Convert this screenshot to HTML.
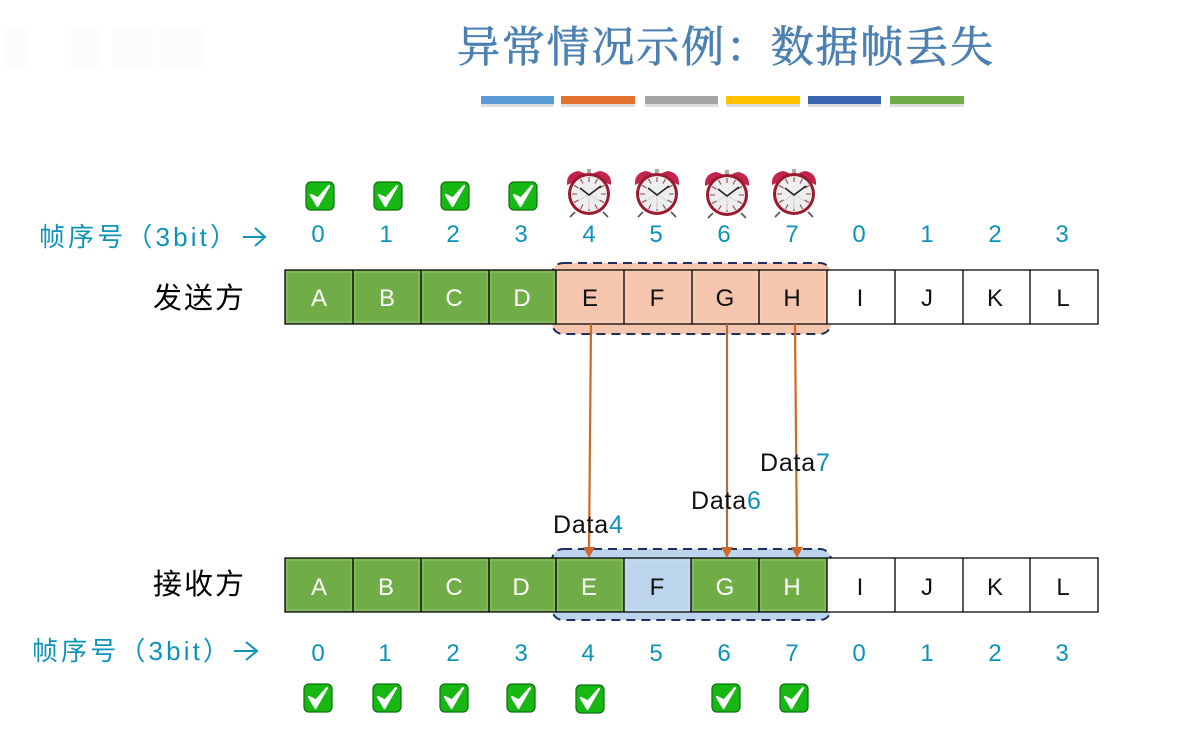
<!DOCTYPE html>
<html><head><meta charset="utf-8">
<style>
html,body{margin:0;padding:0;background:#fff;width:1180px;height:730px;overflow:hidden}
svg{display:block;filter:blur(.35px)}
text{font-family:"Liberation Sans","Noto Sans CJK SC",sans-serif}
.n{font-size:24px;fill:#0b93ba;text-anchor:middle}
.l{font-size:24px;text-anchor:middle}
.w{fill:#fff}.k{fill:#111}
.cj{font-family:"Noto Serif CJK SC","Liberation Serif",serif}
.g{fill:#70ad47}.o{fill:#f6c5ae}.b{fill:#bdd5ec}.e{fill:#fff}
.c{stroke:#000;stroke-width:1.3}
.in{fill:none;stroke:#fff;stroke-opacity:.2;stroke-width:1.2}
.d{font-size:25px;fill:#111;letter-spacing:.8px}
</style></head>
<body>
<svg width="1180" height="730" viewBox="0 0 1180 730" xmlns="http://www.w3.org/2000/svg">
<defs>
<g id="chk">
<rect x="-14" y="-14" width="28" height="28" rx="5" fill="#17b814" stroke="#0c6e0c" stroke-width="1.2"/>
<path d="M-9,-1 L-2.5,10 L9,-10 L-2,2.5 Z" fill="#fff" stroke="#fff" stroke-width="2.2" stroke-linejoin="round"/>
</g>
<g id="clk">
<path d="M-14,18 L-19,23 M14,18 L19,23" stroke="#555" stroke-width="1.6"/>
<path d="M-22,-9 Q-23,-21 -11,-23 Q-5,-22 -2,-18 Z" fill="#c2244c"/>
<path d="M22,-9 Q23,-21 11,-23 Q5,-22 2,-18 Z" fill="#c2244c"/>
<rect x="-2" y="-25" width="4" height="4" fill="#b9a7a7"/>
<circle cx="0" cy="0" r="21" fill="#9a1b30"/>
<circle cx="0" cy="0" r="18" fill="#efeeee"/>
<path d="M0,-17V-12M0,17V9M-17,0H-12M17,0H12M-8.5,-15L-6,-10.5M8.5,-15L6,-10.5M-15,-8.5L-10.5,-6M15,-8.5L10.5,-6M-15,8.5L-10.5,6M15,8.5L10.5,6M-8.5,15L-6,10.5M8.5,15L6,10.5" stroke="#8a4a55" stroke-width="1.1"/>
<path d="M0,0V15M0,0L-12,8M0,0L12,8" stroke="#d2d2d2" stroke-width="1"/>
<path d="M-9,-6L0,1L12,-8" fill="none" stroke="#222" stroke-width="1.6"/>
</g>
</defs>

<!-- faint watermark -->
<g fill="#fdfbfd">
<rect x="2" y="30" width="28" height="36"/><rect x="70" y="28" width="30" height="38"/><rect x="112" y="28" width="42" height="40"/><rect x="160" y="30" width="44" height="38"/>
</g>

<!-- title -->
<text class="cj" x="457" y="62" font-size="43" fill="#4c80b3" stroke="#4c80b3" stroke-width=".7" textLength="536" lengthAdjust="spacing">异常情况示例：数据帧丢失</text>

<!-- colour bars -->
<g>
<rect x="481" y="100" width="73" height="7" fill="#ddd"/>
<rect x="561" y="100" width="74" height="7" fill="#ddd"/>
<rect x="645" y="100" width="73" height="7" fill="#ddd"/>
<rect x="726" y="100" width="74" height="7" fill="#ddd"/>
<rect x="808" y="100" width="73" height="7" fill="#ddd"/>
<rect x="890" y="100" width="74" height="7" fill="#ddd"/>
<rect x="481" y="96" width="73" height="8" fill="#5b9bd5"/>
<rect x="561" y="96" width="74" height="8" fill="#e2702f"/>
<rect x="645" y="96" width="73" height="8" fill="#a5a3a5"/>
<rect x="726" y="96" width="74" height="8" fill="#ffc000"/>
<rect x="808" y="96" width="73" height="8" fill="#3c66b0"/>
<rect x="890" y="96" width="74" height="8" fill="#70ad47"/>
</g>

<!-- top icons -->
<use href="#chk" x="320" y="196"/><use href="#chk" x="388" y="196"/><use href="#chk" x="455" y="196"/><use href="#chk" x="523" y="196"/>
<use href="#clk" x="589" y="194"/><use href="#clk" x="657" y="194"/><use href="#clk" x="727" y="195"/><use href="#clk" x="794" y="194"/>

<!-- top labels -->
<text x="39" y="246" font-size="26" fill="#0b93ba" textLength="197">帧序号（3bit）</text>
<path d="M243,237H264M255,228L265,237L255,246" fill="none" stroke="#0b93ba" stroke-width="2"/>
<text class="n" x="318" y="242">0</text><text class="n" x="386" y="242">1</text><text class="n" x="453" y="242">2</text><text class="n" x="521" y="242">3</text><text class="n" x="589" y="242">4</text><text class="n" x="656" y="242">5</text><text class="n" x="724" y="242">6</text><text class="n" x="792" y="242">7</text><text class="n" x="859" y="242">0</text><text class="n" x="927" y="242">1</text><text class="n" x="995" y="242">2</text><text class="n" x="1062" y="242">3</text>
<text x="153" y="308" font-size="29" fill="#000" textLength="91">发送方</text>

<!-- top window -->
<rect x="552" y="263" width="279" height="71" rx="11" fill="#f6c5ae" stroke="#1f2f5f" stroke-width="2" stroke-dasharray="9 6"/>

<!-- top row -->
<g>
<rect class="g" x="285" y="270" width="271" height="54"/>
<rect class="o" x="556" y="270" width="271" height="54"/>
<rect class="e" x="827" y="270" width="271" height="54"/>
<path class="in" d="M286,272H826M286,322H826M287,271V323M351,271V323M355,271V323M419,271V323M423,271V323M487,271V323M491,271V323M554,271V323M558,271V323M622,271V323M626,271V323M690,271V323M694,271V323M757,271V323M761,271V323M825,271V323"/>
<path class="c" fill="none" d="M285,270H1098V324H285ZM353,270V324M421,270V324M489,270V324M556,270V324M624,270V324M692,270V324M759,270V324M827,270V324M895,270V324M963,270V324M1030,270V324"/>
</g>
<text class="l w" x="319" y="306">A</text><text class="l w" x="387" y="306">B</text><text class="l w" x="454" y="306">C</text><text class="l w" x="522" y="306">D</text>
<text class="l k" x="590" y="306">E</text><text class="l k" x="657" y="306">F</text><text class="l k" x="725" y="306">G</text><text class="l k" x="792" y="306">H</text>
<text class="l k" x="860" y="306">I</text><text class="l k" x="927" y="306">J</text><text class="l k" x="995" y="306">K</text><text class="l k" x="1063" y="306">L</text>

<!-- bottom window -->
<rect x="552" y="549" width="279" height="71" rx="11" fill="#bdd5ec" stroke="#1f2f5f" stroke-width="2" stroke-dasharray="9 6"/>

<!-- bottom row -->
<g>
<rect class="g" x="285" y="558" width="339" height="54"/>
<rect class="b" x="624" y="558" width="67" height="54"/>
<rect class="g" x="691" y="558" width="136" height="54"/>
<rect class="e" x="827" y="558" width="271" height="54"/>
<path class="in" d="M286,560H826M286,610H826M287,559V611M351,559V611M355,559V611M419,559V611M423,559V611M487,559V611M491,559V611M554,559V611M558,559V611M622,559V611M626,559V611M689,559V611M693,559V611M757,559V611M761,559V611M825,559V611"/>
<path class="c" fill="none" d="M285,558H1098V612H285ZM353,558V612M421,558V612M489,558V612M556,558V612M624,558V612M691,558V612M759,558V612M827,558V612M895,558V612M963,558V612M1030,558V612"/>
</g>
<text class="l w" x="319" y="595">A</text><text class="l w" x="386" y="595">B</text><text class="l w" x="454" y="595">C</text><text class="l w" x="521" y="595">D</text>
<text class="l w" x="589" y="595">E</text><text class="l k" x="657" y="595">F</text><text class="l w" x="725" y="595">G</text><text class="l w" x="792" y="595">H</text>
<text class="l k" x="860" y="595">I</text><text class="l k" x="927" y="595">J</text><text class="l k" x="995" y="595">K</text><text class="l k" x="1063" y="595">L</text>

<text x="153" y="594" font-size="29" fill="#000" textLength="91">接收方</text>

<!-- arrows -->
<g stroke="#cb6a26" stroke-width="2.2" fill="none">
<path d="M591,324L589,550"/>
<path d="M727,324L727,550" stroke="#a3704a"/>
<path d="M795,324L797,550"/>
</g>
<g fill="#d0682a">
<path d="M583,547H595L589,558Z"/>
<path d="M721,547H733L727,558Z"/>
<path d="M791,547H803L797,558Z"/>
</g>

<!-- data labels -->
<text class="d" x="553" y="533">Data<tspan fill="#0b93ba">4</tspan></text>
<text class="d" x="691" y="509">Data<tspan fill="#0b93ba">6</tspan></text>
<text class="d" x="760" y="471">Data<tspan fill="#0b93ba">7</tspan></text>

<!-- bottom labels -->
<text x="32" y="660" font-size="26" fill="#0b93ba" textLength="197">帧序号（3bit）</text>
<path d="M234,651H255M246,642L257,651L246,660" fill="none" stroke="#0b93ba" stroke-width="2"/>
<text class="n" x="318" y="661">0</text><text class="n" x="385" y="661">1</text><text class="n" x="453" y="661">2</text><text class="n" x="521" y="661">3</text><text class="n" x="588" y="661">4</text><text class="n" x="656" y="661">5</text><text class="n" x="724" y="661">6</text><text class="n" x="792" y="661">7</text><text class="n" x="859" y="661">0</text><text class="n" x="927" y="661">1</text><text class="n" x="995" y="661">2</text><text class="n" x="1062" y="661">3</text>

<!-- bottom checks -->
<use href="#chk" x="318" y="698"/><use href="#chk" x="387" y="698"/><use href="#chk" x="454" y="698"/><use href="#chk" x="521" y="698"/><use href="#chk" x="590" y="699"/><use href="#chk" x="726" y="698"/><use href="#chk" x="794" y="698"/>
</svg>
</body></html>
